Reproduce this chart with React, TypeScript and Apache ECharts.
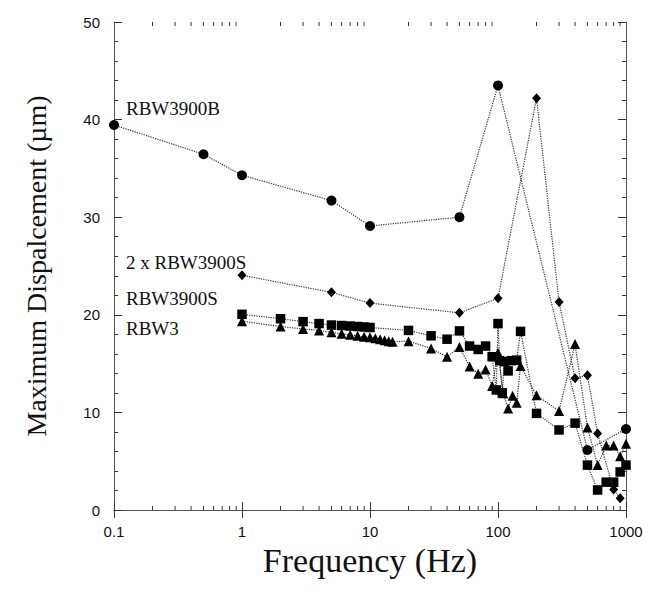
import React, { useEffect, useRef } from "react";
import * as echarts from "echarts";

// RBW3900B (circles)
const freqB = [0.1, 0.5, 1, 5, 10, 50, 100, 500, 1000];
const dispB = [39.45, 36.45, 34.3, 31.7, 29.1, 30.0, 43.5, 6.15, 8.3];

// 2 x RBW3900S (diamonds)
const freq2S = [1, 5, 10, 50, 100, 200, 300, 400, 500, 600, 800, 900];
const disp2S = [24.05, 22.3, 21.2, 20.2, 21.7, 42.2, 21.3, 13.5, 13.8, 7.85, 2.1, 1.2];

// RBW3900S (squares)
const freqS = [1, 2, 3, 4, 5, 6, 7, 8, 9, 10, 20, 30, 40, 50, 60, 70, 80, 90, 97, 100, 103, 108, 112, 120, 127, 140, 150, 200, 300, 400, 500, 600, 700, 800, 900, 1000];
const dispS = [20.05, 19.6, 19.3, 19.1, 18.95, 18.9, 18.85, 18.8, 18.75, 18.7, 18.4, 17.85, 17.5, 18.35, 16.8, 16.45, 16.8, 15.7, 12.3, 19.1, 15.3, 12.0, 15.2, 14.25, 15.3, 15.35, 18.3, 9.9, 8.2, 8.9, 4.6, 2.05, 2.85, 2.85, 3.9, 4.6];

// RBW3 (triangles)
const freqT = [1, 2, 3, 4, 5, 6, 7, 8, 9, 10, 11, 12, 13, 14, 15, 20, 30, 40, 50, 60, 70, 80, 90, 100, 110, 120, 130, 140, 150, 200, 300, 400, 500, 600, 700, 800, 900, 1000];
const dispT = [19.35, 18.8, 18.55, 18.4, 18.2, 18.05, 17.95, 17.85, 17.75, 17.7, 17.6, 17.5, 17.4, 17.3, 17.25, 17.3, 16.55, 15.7, 16.7, 14.7, 13.95, 14.4, 12.7, 16.1, 11.95, 10.4, 11.7, 11.0, 14.75, 11.75, 10.15, 17.0, 8.45, 4.6, 6.6, 6.6, 5.5, 6.8];

const xTickLabels = ["0.1", "1", "10", "100", "1000"];
const seriesNames = ["RBW3900B", "2 x RBW3900S", "RBW3900S", "RBW3"];

const XMIN = 0.1;
const XMAX = 1000;
const YMIN = 0;
const YMAX = 50;

// minor log ticks 2..9 in each decade (axis structure)
const minorLogTicks: number[] = [];
[0.1, 1, 10, 100].forEach((d) => {
  for (let k = 2; k <= 9; k++) minorLogTicks.push(Number((k * d).toPrecision(3)));
});

const pairs = (xs: number[], ys: number[]) => xs.map((x, i) => [x, ys[i]]);

export default function App() {
  const ref = useRef<HTMLDivElement>(null);
  useEffect(() => {
    if (!ref.current) return;
    const chart = echarts.init(ref.current, undefined, { renderer: "svg" });
    const ink = "#111";
    const lineStyle = { type: "dotted" as const, width: 1.2, color: "#333" };
    const tickFont = { fontFamily: "Liberation Sans", fontSize: 15, color: ink };
    const fmtX = (v: number) => {
      const s = String(Number(v.toPrecision(3)));
      return xTickLabels.includes(s) ? s : "";
    };
    const baseX = {
      type: "log" as const,
      logBase: 10,
      min: XMIN,
      max: XMAX,
      splitLine: { show: false },
      axisLine: { show: true, lineStyle: { color: "#555", width: 1 } },
    };
    const baseY = {
      type: "value" as const,
      min: YMIN,
      max: YMAX,
      interval: 10,
      splitLine: { show: false },
      axisLine: { show: true, lineStyle: { color: "#555", width: 1 } },
      minorTick: { show: true, splitNumber: 5, length: 4, lineStyle: { color: "#333" } },
    };
    chart.setOption({
      animation: false,
      backgroundColor: "#fff",
      grid: { left: 114, right: 33, top: 22, bottom: 85, containLabel: false },
      xAxis: [
        {
          ...baseX,
          position: "bottom",
          axisTick: { show: true, inside: true, length: 8, lineStyle: { color: "#333" } },
          axisLabel: { ...tickFont, margin: 14, formatter: fmtX },
          name: "Frequency (Hz)",
          nameLocation: "middle",
          nameGap: 25,
          nameTextStyle: { fontFamily: "Liberation Serif", fontSize: 34, color: ink },
        },
        {
          ...baseX,
          position: "top",
          axisTick: { show: true, inside: true, length: 8, lineStyle: { color: "#333" } },
          axisLabel: { show: false },
        },
      ],
      yAxis: [
        {
          ...baseY,
          position: "left",
          axisTick: { show: true, inside: true, length: 8, lineStyle: { color: "#333" } },
          axisLabel: { ...tickFont, margin: 14 },
          name: "Maximum Dispalcement (µm)",
          nameLocation: "middle",
          nameGap: 64,
          nameTextStyle: { fontFamily: "Liberation Serif", fontSize: 28, color: ink },
        },
        {
          ...baseY,
          position: "right",
          axisTick: { show: true, inside: true, length: 8, lineStyle: { color: "#333" } },
          axisLabel: { show: false },
        },
      ],
      graphic: [
        { type: "text", left: 126, top: 99, style: { text: seriesNames[0], font: '19px "Liberation Serif"', fill: ink } },
        { type: "text", left: 126, top: 253, style: { text: seriesNames[1], font: '19px "Liberation Serif"', fill: ink } },
        { type: "text", left: 126, top: 289, style: { text: seriesNames[2], font: '19px "Liberation Serif"', fill: ink } },
        { type: "text", left: 126, top: 319, style: { text: seriesNames[3], font: '19px "Liberation Serif"', fill: ink } },
      ],
      series: [
        {
          name: seriesNames[0],
          type: "line",
          data: pairs(freqB, dispB),
          symbol: "circle",
          symbolSize: 10,
          itemStyle: { color: "#000" },
          lineStyle,
          z: 4,
        },
        {
          name: seriesNames[1],
          type: "line",
          data: pairs(freq2S, disp2S),
          symbol: "diamond",
          symbolSize: [9, 10],
          itemStyle: { color: "#000" },
          lineStyle,
          z: 4,
        },
        {
          name: seriesNames[2],
          type: "line",
          data: pairs(freqS, dispS),
          symbol: "rect",
          symbolSize: 9.5,
          itemStyle: { color: "#000" },
          lineStyle,
          z: 3,
        },
        {
          name: seriesNames[3],
          type: "line",
          data: pairs(freqT, dispT),
          symbol: "triangle",
          symbolSize: 10,
          itemStyle: { color: "#000" },
          lineStyle,
          z: 3,
        },
        {
          type: "custom",
          silent: true,
          data: minorLogTicks.map((v) => [v]),
          renderItem: (_p: any, api: any) => {
            const x = api.value(0);
            const b = api.coord([x, YMIN]);
            const t = api.coord([x, YMAX]);
            return {
              type: "group",
              children: [
                { type: "line", shape: { x1: b[0], y1: b[1], x2: b[0], y2: b[1] - 4 }, style: { stroke: "#333", lineWidth: 1 } },
                { type: "line", shape: { x1: t[0], y1: t[1], x2: t[0], y2: t[1] + 4 }, style: { stroke: "#333", lineWidth: 1 } },
              ],
            };
          },
          z: 1,
        },
      ],
    });
    return () => chart.dispose();
  }, []);
  return <div ref={ref} style={{ width: 659, height: 595, marginLeft: -8, marginTop: -8 }} />;
}
